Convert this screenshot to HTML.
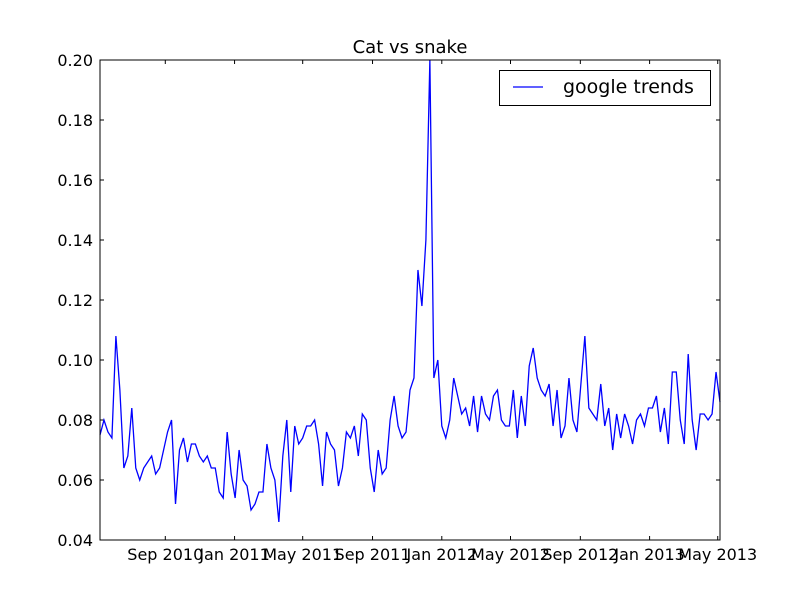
<!DOCTYPE html>
<html><head><meta charset="utf-8"><style>
body{margin:0;background:#fff}
svg text{font-family:"DejaVu Sans","Liberation Sans",sans-serif}
</style></head><body>
<svg id="chart" width="800" height="600" xmlns="http://www.w3.org/2000/svg">
<rect width="800" height="600" fill="#fff"/>
<text x="410" y="53" font-size="18" text-anchor="middle">Cat vs snake</text>
<g id="ticks"></g>
<polyline id="line" fill="none" stroke="#0000ff" stroke-width="1.3"/>
<rect x="100" y="60" width="620" height="480" fill="none" stroke="#000" stroke-width="1"/>
<g>
<rect x="499.5" y="70.5" width="211" height="35" fill="#fff" stroke="#000"/>
<line x1="513" y1="87" x2="543" y2="87" stroke="#0000ff" stroke-width="1.3"/>
<text x="563" y="93" font-size="19">google trends</text>
</g>
</svg>
<script>
const startDate = "2010-05-09";
const values = [0.075,0.080,0.076,0.074,0.108,0.090,0.064,0.068,0.084,0.064,0.060,0.064,0.066,0.068,0.062,0.064,0.070,0.076,0.080,0.052,
0.070,0.074,0.066,0.072,0.072,0.068,0.066,0.068,0.064,0.064,0.056,0.054,0.076,0.062,0.054,0.070,0.060,0.058,0.050,0.052,
0.056,0.056,0.072,0.064,0.060,0.046,0.068,0.080,0.056,0.078,0.072,0.074,0.078,0.078,0.080,0.072,0.058,0.076,0.072,0.070,
0.058,0.064,0.076,0.074,0.078,0.068,0.082,0.080,0.064,0.056,0.070,0.062,0.064,0.080,0.088,0.078,0.074,0.076,0.090,0.094,
0.130,0.118,0.140,0.200,0.094,0.100,0.078,0.074,0.080,0.094,0.088,0.082,0.084,0.078,0.088,0.076,0.088,0.082,0.080,0.088,
0.090,0.080,0.078,0.078,0.090,0.074,0.088,0.078,0.098,0.104,0.094,0.090,0.088,0.092,0.078,0.090,0.074,0.078,0.094,0.080,
0.076,0.092,0.108,0.084,0.082,0.080,0.092,0.078,0.084,0.070,0.082,0.074,0.082,0.078,0.072,0.080,0.082,0.078,0.084,0.084,
0.088,0.076,0.084,0.072,0.096,0.096,0.080,0.072,0.102,0.080,0.070,0.082,0.082,0.080,0.082,0.096,0.086];
const yTicks = [0.04,0.06,0.08,0.10,0.12,0.14,0.16,0.18,0.20];
const xTickDates = ["2010-09-01","2011-01-01","2011-05-01","2011-09-01","2012-01-01","2012-05-01","2012-09-01","2013-01-01","2013-05-01"];
const xTickLabels = ["Sep 2010","Jan 2011","May 2011","Sep 2011","Jan 2012","May 2012","Sep 2012","Jan 2013","May 2013"];

const X0=100,X1=720,Y0=540,Y1=60,yMin=0.04,yMax=0.20;
const DAY=86400000, t0=Date.parse(startDate);
const xEndDays=(values.length-1)*7;
const xScale=d=>X0+(d/xEndDays)*(X1-X0);
const yScale=v=>Y0-(v-yMin)/(yMax-yMin)*(Y0-Y1);
const NS="http://www.w3.org/2000/svg";
const line=document.getElementById('line');
line.setAttribute('points',values.map((v,i)=>xScale(i*7).toFixed(2)+","+yScale(v).toFixed(2)).join(" "));
const g=document.getElementById('ticks');
function mk(tag,attrs){const e=document.createElementNS(NS,tag);for(const k in attrs)e.setAttribute(k,attrs[k]);g.appendChild(e);return e;}
yTicks.forEach(v=>{
  const y=yScale(v);
  const t1=mk('line',{x1:X0,y1:y,x2:X0+4,y2:y,stroke:'#000'});
  
  
  const t2=mk('line',{x1:X1,y1:y,x2:X1-4,y2:y,stroke:'#000'});
  
  
  const tx=mk('text',{x:X0-7,y:y+6,'font-size':16,'text-anchor':'end'});
  tx.textContent=v.toFixed(2);
  
  
});
xTickDates.forEach((d,i)=>{
  const x=xScale((Date.parse(d)-t0)/DAY);
  const t1=mk('line',{x1:x,y1:Y0,x2:x,y2:Y0-4,stroke:'#000'});
  
  
  const t2=mk('line',{x1:x,y1:Y1,x2:x,y2:Y1+4,stroke:'#000'});
  
  
  const tx=mk('text',{x:x,y:Y0+20,'font-size':16,'text-anchor':'middle'});
  tx.textContent=xTickLabels[i];
  
  
});
</script>
</body></html>
